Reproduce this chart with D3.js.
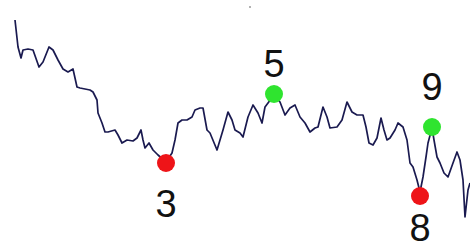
<!DOCTYPE html>
<html lang="en">
<head>
    <meta charset="utf-8">
    <script src="https://d3js.org/d3.v7.min.js"></script>
    <style>
        body { margin: 0; background: #fff; }
        svg { display: block; }
    </style>
</head>
<body>
<script type="text/javascript">

    // price trace (time, level)
    var days = [
        15,18,21,23,28,33,39,43,49,53,
        58,63,68,73,77,80,90,93,97,98,
        102,105,108,115,118,122,127,133,137,141,
        143,145,149,153,158,166,172,175,178,182,
        187,192,195,200,203,207,210,217,223,228,
        232,235,240,243,248,253,258,262,265,268,
        274,280,285,290,295,300,305,310,315,318,
        323,327,330,337,342,347,352,357,363,366,
        369,373,377,381,384,387,390,395,398,403,
        407,410,413,417,420,423,426,428,432,434,
        437,440,444,448,453,457,460,463,465,468,
        470
    ];
    var levels = [
        224,197,186,194,195,194,177,182,197,194,
        184,175,172,175,157,156,154,152,144,131,
        121,112,112,114,109,101,104,103,106,114,
        104,96,101,94,89,82,91,104,121,124,
        124,127,134,136,136,114,111,94,114,132,
        124,114,111,107,127,139,131,121,137,141,
        149,142,129,136,139,127,121,112,116,117,
        137,127,116,117,124,142,132,129,129,117,
        101,99,106,126,114,104,106,114,121,117,
        104,81,77,64,52,67,87,101,116,104,
        87,81,71,67,81,92,84,64,27,54,
        61
    ];

    // marked turning points
    var pointDays   = [166, 274, 432, 420];
    var pointLevels = [81, 150, 117, 48];
    var pointLabels = ["3", "5", "9", "8"];
    var pointKinds  = ["low", "high", "high", "low"];

    var width = 470, height = 244;

    var svg = d3.select("body")
        .append("svg")
        .attr("width", width)
        .attr("height", height);

    var x = d3.scaleLinear().domain([0, 470]).range([0, width]);
    var y = d3.scaleLinear().domain([0, 244]).range([height, 0]);

    var data = days.map(function(d, i) { return {t: d, v: levels[i]}; });
    var points = pointDays.map(function(d, i) {
        return {t: d, v: pointLevels[i], label: pointLabels[i], kind: pointKinds[i]};
    });

    var line = d3.line()
        .x(function(d) { return x(d.t); })
        .y(function(d) { return y(d.v); });

    svg.append("path")
        .datum(data)
        .attr("d", line)
        .attr("fill", "none")
        .attr("stroke", "#1a1a50")
        .attr("stroke-width", 1.7)
        .attr("stroke-linejoin", "round");

    // small speck near the top
    svg.append("circle")
        .attr("cx", x(250)).attr("cy", y(237)).attr("r", 1)
        .attr("fill", "#999");

    svg.selectAll(".dot")
        .data(points)
        .enter()
        .append("circle")
        .attr("class", "dot")
        .attr("cx", function(d) { return x(d.t); })
        .attr("cy", function(d) { return y(d.v); })
        .attr("r", 9)
        .attr("fill", function(d) { return d.kind == "low" ? "#ee1418" : "#2fe42f"; });

    // label offsets from the dot centre
    var labelDy = {"3": 54, "5": -17, "9": -27, "8": 45};

    svg.selectAll(".lbl")
        .data(points)
        .enter()
        .append("text")
        .attr("class", "lbl")
        .attr("x", function(d) { return x(d.t); })
        .attr("y", function(d) { return y(d.v) + labelDy[d.label]; })
        .attr("text-anchor", "middle")
        .style("font-family", "'Liberation Sans', Arial, sans-serif")
        .style("font-size", "38px")
        .attr("fill", "#111")
        .text(function(d) { return d.label; });

</script>
</body>
</html>
